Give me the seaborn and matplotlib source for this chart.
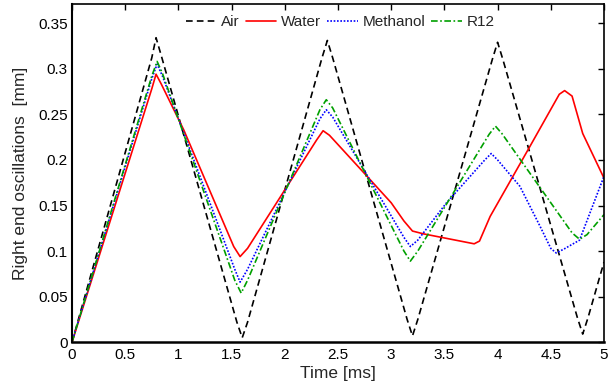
import matplotlib
matplotlib.use("Agg")
import matplotlib.pyplot as plt
import seaborn as sns
import pandas as pd

# ---- data ----
t_air = [0, 0.75, 0.79, 0.84, 1.55, 1.6, 1.65, 2.35, 2.4, 2.45, 3.15, 3.2, 3.25,
         3.95, 4.0, 4.05, 4.75, 4.8, 4.85, 5.0]
v_air = [0, 0.312, 0.334, 0.314, 0.022, 0.005, 0.022, 0.312, 0.331, 0.312, 0.025,
         0.007, 0.025, 0.31, 0.329, 0.31, 0.027, 0.009, 0.027, 0.088]

t_water = [0, 0.75, 0.79, 0.84, 1.05, 1.52, 1.58, 1.65, 2.3, 2.36, 2.42, 2.75, 3.0,
           3.12, 3.2, 3.3, 3.78, 3.83, 3.93, 4.3, 4.58, 4.63, 4.7, 4.8, 5.0]
v_water = [0, 0.278, 0.294, 0.283, 0.233, 0.105, 0.094, 0.103, 0.222, 0.232, 0.227,
           0.185, 0.153, 0.133, 0.122, 0.119, 0.108, 0.111, 0.138, 0.214, 0.272,
           0.276, 0.27, 0.229, 0.18]

t_meth = [0, 0.75, 0.8, 0.85, 1.53, 1.58, 1.65, 2.33, 2.39, 2.45, 3.12, 3.18, 3.25,
          3.52, 3.88, 3.94, 4.0, 4.21, 4.4, 4.5, 4.55, 4.62, 4.77, 5.0]
v_meth = [0, 0.289, 0.305, 0.292, 0.08, 0.066, 0.08, 0.245, 0.255, 0.247, 0.115,
          0.105, 0.112, 0.153, 0.2, 0.207, 0.2, 0.171, 0.127, 0.103, 0.098, 0.102,
          0.112, 0.182]

t_r12 = [0, 0.75, 0.8, 0.85, 1.53, 1.59, 1.65, 2.33, 2.39, 2.45, 3.12, 3.18, 3.25,
         3.92, 3.98, 4.04, 4.7, 4.77, 4.84, 5.0]
v_r12 = [0, 0.292, 0.308, 0.295, 0.068, 0.054, 0.068, 0.255, 0.266, 0.257, 0.1,
         0.089, 0.1, 0.228, 0.237, 0.229, 0.12, 0.113, 0.118, 0.14]

series_names = ["Air", "Water", "Methanol", "R12"]
x_ticks = [0, 0.5, 1, 1.5, 2, 2.5, 3, 3.5, 4, 4.5, 5]
x_tick_labels = ["0", "0.5", "1", "1.5", "2", "2.5", "3", "3.5", "4", "4.5", "5"]
y_ticks = [0, 0.05, 0.1, 0.15, 0.2, 0.25, 0.3, 0.35]
y_tick_labels = ["0", "0.05", "0.1", "0.15", "0.2", "0.25", "0.3", "0.35"]

sns.set_style("white")
plt.rcParams["font.family"] = ["Liberation Sans", "DejaVu Sans"]

fig = plt.figure(figsize=(6.08, 3.83), dpi=100)
ax = fig.add_axes([0.1184, 0.1063, 0.875, 0.8833])

data = [(t_air, v_air), (t_water, v_water), (t_meth, v_meth), (t_r12, v_r12)]
styles = [
    dict(color="black", linestyle=(0, (4, 2.5))),
    dict(color="#ff0000", linestyle="-"),
    dict(color="#0000ff", linestyle=(0, (1, 1))),
    dict(color="#00a000", linestyle=(0, (4, 1.5, 1, 1.5))),
]
for name, (t, v), st in zip(series_names, data, styles):
    df = pd.DataFrame({"t": t, "v": v})
    sns.lineplot(data=df, x="t", y="v", ax=ax, estimator=None, sort=False,
                 label=name, linewidth=1.2, **st)

ax.set_xlim(0, 5)
ax.set_ylim(0, 0.371)
ax.set_xticks(x_ticks)
ax.set_xticklabels(x_tick_labels)
ax.set_yticks(y_ticks)
ax.set_yticklabels(y_tick_labels)
ax.tick_params(direction="in", length=4.5, width=1.0, top=True, right=True,
               labelsize=11, colors="black")
ax.tick_params(axis="x", pad=4)
ax.tick_params(axis="y", pad=3)
for sp in ax.spines.values():
    sp.set_visible(True)
    sp.set_color("black")
    sp.set_linewidth(1.2)
ax.spines["bottom"].set_linewidth(1.8)
ax.spines["left"].set_linewidth(1.5)

ax.set_xlabel("Time [ms]", fontsize=12.5, labelpad=3)
ax.set_ylabel("Right end oscillations  [mm]", fontsize=12.5, labelpad=7)

leg = ax.legend(loc="center", bbox_to_anchor=(0.504, 0.947), ncol=4,
                frameon=False, fontsize=11, handlelength=2.0,
                handletextpad=0.3, columnspacing=0.4, borderpad=0)

fig.savefig("out.png", dpi=100)
